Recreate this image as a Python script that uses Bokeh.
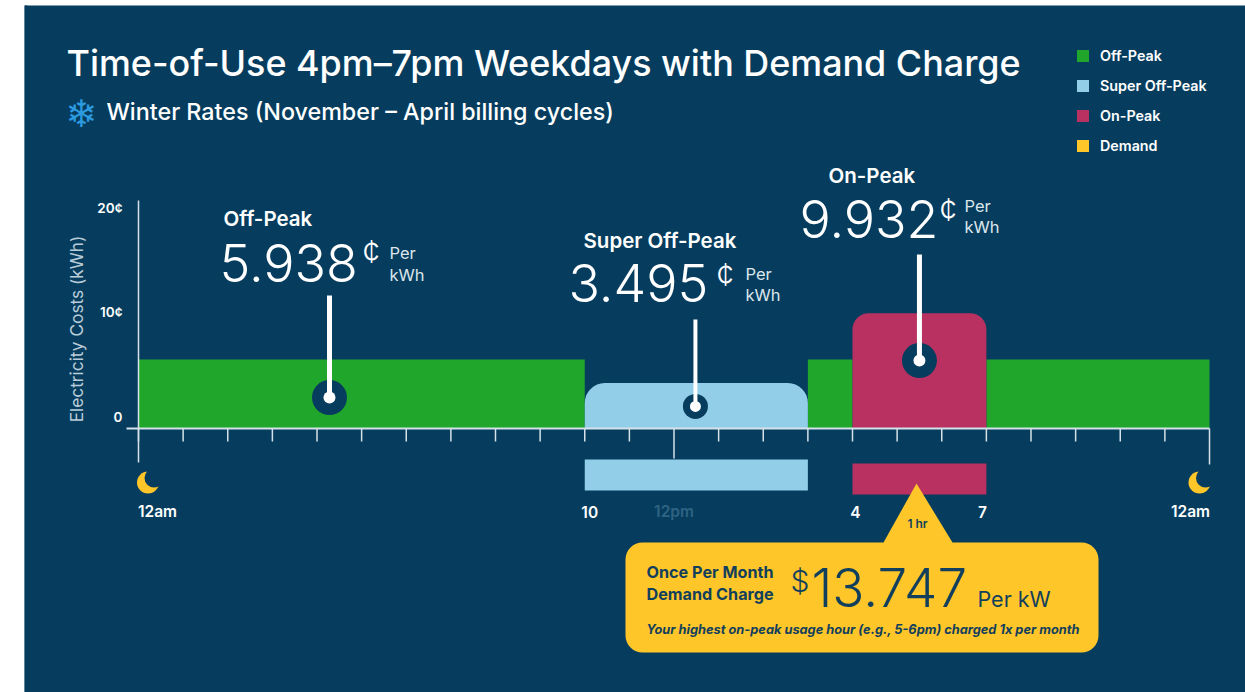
import math
from bokeh.core.properties import value
from bokeh.embed import file_html
from bokeh.models import BoxAnnotation, ColumnDataSource, Legend, LegendItem
from bokeh.plotting import figure
from bokeh.resources import INLINE

# ---- data -------------------------------------------------------------
off_peak_starts = [0, 15, 19]
off_peak_ends = [10, 16, 24]
off_peak_height = 5.938
super_start, super_end, super_height = 10, 15, 3.92
on_start, on_end, on_height = 16, 19, 9.932
hours = list(range(25))
y_labels = ["20¢", "10¢", "0"]
y_label_values = [19.05, 10.05, 0.95]
x_label_hours = [0, 10, 12, 16, 19, 24]
x_labels = ["12am", "10", "12pm", "4", "7", "12am"]
rate_names = ["Off-Peak", "Super Off-Peak", "On-Peak"]
rate_values = ["5.938", "3.495", "9.932"]
rate_hours = [4.28, 12.48, 17.5]
rate_marks = [2.67, 1.9, 5.86]
demand_value = "13.747"

NAVY = "#063D5E"
GREEN = "#21A62C"
BLUE = "#92CEE8"
RED = "#B93160"
YELLOW = "#FFC629"
LINE = "#D5E2EA"
SANS = "Inter"
LIGHT = "Inter Light"
MEDIUM = "Inter Medium"
SEMI = "Inter SemiBold"

# ---- scales: 44.625 px per hour, 11.6 px per cent ----------------------
PX_H, PX_C = 44.625, 11.6
def X(px):
    return (px - 138) / PX_H
def Y(py):
    return (428 - py) / PX_C

p = figure(
    width=1245, height=692, output_backend="svg", toolbar_location=None,
    x_range=(X(24), X(1245)), y_range=(Y(692), Y(5)),
    x_axis_location=None, y_axis_location=None,
    min_border_left=24, min_border_right=0, min_border_top=5, min_border_bottom=0,
    background_fill_color=NAVY, border_fill_color="white", outline_line_color=None,
)
p.grid.visible = False
p.add_layout(BoxAnnotation(left=0, right=3, top=0, bottom=692,
                           left_units="screen", right_units="screen",
                           top_units="screen", bottom_units="screen",
                           fill_color=NAVY, fill_alpha=1, line_color=None))


def rounded(x0, x1, y0, y1, r_px, corners="tl tr br bl"):
    """Polygon (data units) for a box with rounded corners, radius in px."""
    rx, ry = r_px / PX_H, r_px / PX_C
    xs, ys = [], []
    spec = [("bl", x0 + rx, y0 + ry, 270), ("tl", x0 + rx, y1 - ry, 180),
            ("tr", x1 - rx, y1 - ry, 90), ("br", x1 - rx, y0 + ry, 0)]
    for name, cx, cy, start in spec:
        if name in corners.split():
            for k in range(9):
                a = math.radians(start - k * 90 / 8)
                xs.append(cx + rx * math.cos(a))
                ys.append(cy + ry * math.sin(a))
        else:
            xs.append(x0 if name in ("bl", "tl") else x1)
            ys.append(y0 if name in ("bl", "br") else y1)
    return xs, ys


# ---- bars --------------------------------------------------------------
r_off = p.quad(left=off_peak_starts, right=off_peak_ends, bottom=0,
               top=off_peak_height, fill_color=GREEN, line_color=None)
sx, sy = rounded(super_start, super_end, 0, super_height, 20, "tl tr")
r_super = p.patch(sx, sy, fill_color=BLUE, line_color=None)
ox, oy = rounded(on_start, on_end, 0, on_height, 16, "tl tr")
r_on = p.patch(ox, oy, fill_color=RED, line_color=None)

# schedule strips below the axis
p.quad(left=[super_start], right=[super_end], bottom=[Y(490)], top=[Y(459)],
       fill_color=BLUE, line_color=None)
p.quad(left=[on_start], right=[on_end], bottom=[Y(494)], top=[Y(463)],
       fill_color=RED, line_color=None)

# ---- axes --------------------------------------------------------------
p.segment(x0=hours, x1=hours, y0=[0] * 25,
          y1=[Y(458) if h == 12 else Y(464) if h == 24 else Y(441) for h in hours],
          line_color=LINE, line_width=1.5)
p.segment(x0=[X(126)], x1=[24], y0=[0], y1=[0], line_color=LINE, line_width=2)
p.segment(x0=[0], x1=[0], y0=[Y(200)], y1=[Y(462)], line_color=LINE, line_width=1.5)

p.text(x=[X(122)] * 3, y=y_label_values, text=y_labels, text_color="white",
       text_font=value(SEMI), text_font_size="13.5px",
       text_align="right", text_baseline="middle")
p.text(x=[X(76)], y=[Y(328.5)], text=["Electricity Costs (kWh)"], angle=math.pi / 2,
       text_color="#B9CCD8", text_font=value(SANS), text_font_size="17.3px",
       text_align="center", text_baseline="middle")

lbl = ColumnDataSource(dict(
    x=x_label_hours, y=[Y(511)] * 6, t=x_labels,
    dx=[19, 5, 0, 3, -4, -19],
    c=["white", "white", "#2E6383", "white", "white", "white"],
))
p.text(x="x", y="y", text="t", x_offset="dx", text_color="c", source=lbl,
       text_font=value(SEMI), text_font_size="15.5px",
       text_align="center", text_baseline="middle")

# moons
p.scatter([X(147.5), X(1199)], [Y(482)] * 2, size=22, fill_color=YELLOW, line_color=None)
p.scatter([X(153.5), X(1205)], [Y(477.5)] * 2, size=19, fill_color=NAVY, line_color=None)

# ---- pointers ----------------------------------------------------------
tops = [Y(295), Y(319), Y(254)]
p.scatter(rate_hours, rate_marks, size=[35, 25, 35], fill_color=NAVY, line_color=None)
p.scatter(rate_hours, rate_marks, size=[12, 11, 12], fill_color="white", line_color=None)
p.segment(x0=rate_hours, x1=rate_hours, y0=rate_marks, y1=tops, line_color="white", line_width=[5, 4, 5])

# ---- text helper: py is the text baseline in page pixels ---------------
def label(px, py, s, size, color="white", font=SANS, style="normal", align="left"):
    p.text(x=[X(px)], y=[Y(py - 0.36 * size)], text=[s], text_color=color, text_font=value(font),
           text_font_style=style, text_font_size=f"{size}px", text_align=align,
           text_baseline="middle")

label(66, 75, "Time-of-Use 4pm–7pm Weekdays with Demand Charge", 35.9, font=MEDIUM)
label(106, 119, "Winter Rates (November – April billing cycles)", 23.3, font=MEDIUM)
label(81, 126.7, "❄", 38, color="#2C9BE0", font="DejaVu Sans", align="center")

pos = [
    (223, 225, 219, 281, 362, 262, 389, 258, 280),
    (583, 247, 568, 301, 716, 285, 745, 279, 300),
    (828, 182, 799, 237, 939, 220, 964, 211, 232),
]
for name, val, q in zip(rate_names, rate_values, pos):
    label(q[0], q[1], name, 20.5, font=SEMI)
    label(q[2], q[3], val, 52, font=LIGHT)
    label(q[4], q[5], "¢", 31, font=LIGHT)
    label(q[6], q[7], "Per", 16.5, color="#DCE6EC")
    label(q[6], q[8], "kWh", 16.5, color="#DCE6EC")

# ---- demand call-out ---------------------------------------------------
bx, by = rounded(X(625), X(1098), Y(652), Y(542), 17)
# insert the pointer between the rounded top-left and top-right corners
bx[18:18] = [X(883), X(916), X(952)]
by[18:18] = [Y(542), Y(483), Y(542)]
r_dem = p.patch(bx, by, fill_color=YELLOW, line_color=None)

INK = "#123F5C"
label(917, 527, "1 hr", 12, color=INK, font=SEMI, align="center")
label(646, 577, "Once Per Month", 16.2, color=INK, style="bold")
label(646, 599, "Demand Charge", 16.2, color=INK, style="bold")
label(790, 591, "$", 30, color=INK, font=LIGHT)
label(811, 606, demand_value, 53, color=INK, font=LIGHT)
label(977, 606, "Per kW", 21.5, color=INK)
label(646, 634, "Your highest on-peak usage hour (e.g., 5-6pm) charged 1x per month", 12.8,
      color=INK, style="bold italic")

# ---- legend ------------------------------------------------------------
legend = Legend(
    items=[LegendItem(label="Off-Peak", renderers=[r_off]),
           LegendItem(label="Super Off-Peak", renderers=[r_super]),
           LegendItem(label="On-Peak", renderers=[r_on]),
           LegendItem(label="Demand", renderers=[r_dem])],
    location=(1051, 538), background_fill_alpha=0, border_line_color=None,
    label_text_color="white", label_text_font=SEMI,
    label_text_font_size="14.3px", glyph_width=15, glyph_height=15, spacing=13,
    label_standoff=10, margin=0, padding=0,
)
p.add_layout(legend, "center")

open("out.html", "w").write(file_html(p, INLINE))
